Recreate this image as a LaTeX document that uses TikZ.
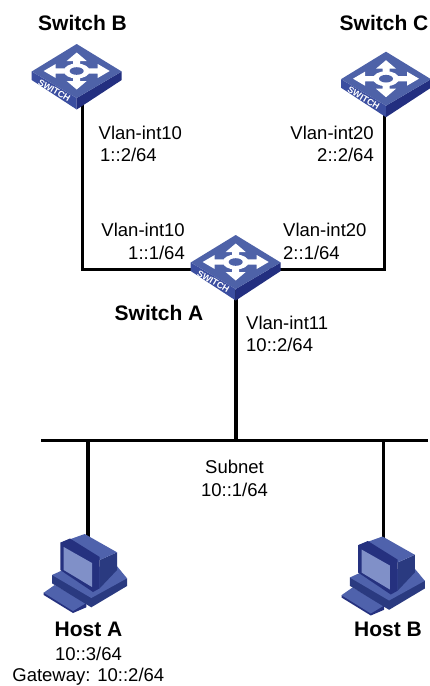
\documentclass[tikz,border=0pt]{standalone}
\usepackage{fontspec}
\setmainfont{Liberation Sans}
\definecolor{swtop}{HTML}{4E62A8}
\definecolor{swleft}{HTML}{3B4EA0}
\definecolor{swright}{HTML}{232F80}
\definecolor{hmid}{HTML}{4F62AC}
\definecolor{hdark}{HTML}{2A3A80}
\definecolor{hdeep}{HTML}{25317F}
\definecolor{hscreen}{HTML}{8090C8}
\tikzset{
  lbl/.style={font=\fontsize{18.5}{22}\selectfont,align=center,inner sep=0pt,text=black},
  bold/.style={font=\fontsize{21}{24}\bfseries\selectfont,inner sep=0pt,text=black},
  wire/.style={line width=3.6pt,black},
  switchicon/.pic={
    \fill[swleft] (-45,0.5)--(0,27)--(0,38.5)--(-45,9)--cycle;
    \fill[swright] (45,0.5)--(0,27)--(0,38.5)--(45,9)--cycle;
    \fill[swtop] (0,-27)--(45,0.5)--(0,27)--(-45,0.5)--cycle;
    \fill[white] (0,-18.5)--(10,-10)--(3.5,-10)--(3.5,-5)--(-3.5,-5)--(-3.5,-10)--(-10,-10)--cycle;
    \fill[white] (0,18.5)--(10,10)--(3.5,10)--(3.5,5)--(-3.5,5)--(-3.5,10)--(-10,10)--cycle;
    \fill[white] (33,0)--(21,-7)--(21,-2.6)--(12,-2.6)--(12,2.6)--(21,2.6)--(21,7)--cycle;
    \fill[white] (-33,0)--(-21,-7)--(-21,-2.6)--(-12,-2.6)--(-12,2.6)--(-21,2.6)--(-21,7)--cycle;
    \fill[white] (0,0) ellipse[x radius=13,y radius=7.5];
    \fill[swtop] (0,0) ellipse[x radius=7,y radius=3.8];
    \node[rotate=-31,text=white,inner sep=0pt,font=\fontsize{9}{10}\bfseries\selectfont] at (-22.4,19.5) {SWITCH};
  },
  hosticon/.pic={
    % keyboard
    \fill[hdeep] (-44.3,57.7)--(-44.3,60)--(-15,78)--(-1.7,72.3)--(-1.7,68)--cycle;
    \fill[hmid] (-44.3,57.7)--(-33.3,50)--(-1.7,68)--(-15,76)--cycle;
    % base
    \fill[hdark] (-36,40)--(-36,48.3)--(3.3,72.3)--(39,51)--(39,43.3)--cycle;
    \fill[hmid] (-36,40)--(-25,35)--(28,30)--(39,43.3)--(3.3,63)--cycle;
    % monitor
    \fill[hdark] (11.7,25)--(29,17.3)--(29,35)--(11.7,53.3)--cycle;
    \fill[hmid] (-27.7,7.7)--(-3.3,-1)--(29,17.3)--(11.7,25)--cycle;
    \fill[hdeep] (-27.7,7.7)--(-18,3.5)--(11.7,22)--(11.7,53.3)--(5,57)--(-27.7,35)--cycle;
    \fill[hscreen] (-24.3,12)--(4,28)--(4,52)--(-24.3,35)--cycle;
  }
}
\begin{document}
\begin{tikzpicture}[x=1pt,y=-1pt]
\useasboundingbox (0,0) rectangle (430,686);
\fill[white] (0,0) rectangle (430,686);
% anchors of the devices
\coordinate (swB) at (76.7,71);
\coordinate (swC) at (386,78.7);
\coordinate (swA) at (235.7,262);
\coordinate (hostA) at (88,535);
\coordinate (hostB) at (385.8,537.5);
% ports and joints
\coordinate (portB) at (82.3,100);
\coordinate (portC) at (384.3,110);
\coordinate (cornerB) at (82.3,269.3);
\coordinate (cornerC) at (384.3,269.3);
\coordinate (portAl) at (200,269.3);
\coordinate (portAr) at (270,269.3);
\coordinate (portAd) at (235.7,290);
\coordinate (busL) at (41,440.5);
\coordinate (busR) at (428,440.5);
\coordinate (tapM) at (235.7,440.5);
\coordinate (tapA) at (88,440.5);
\coordinate (tapB) at (383.3,440.5);
\coordinate (portHA) at (88,540);
\coordinate (portHB) at (383.3,540);
% connectors
\draw[wire] (portB) -- (cornerB) -- (portAl);
\draw[wire] (portC) -- (cornerC) -- (portAr);
\draw[wire] (portAd) -- (tapM);
\draw[wire] (busL) -- (busR);
\draw[wire] (tapA) -- (portHA);
\draw[wire] (tapB) -- (portHB);
% devices
\pic at (swB) {switchicon};
\pic at (swC) {switchicon};
\pic at (swA) {switchicon};
\pic at (hostA) {hosticon};
\pic at (hostB) {hosticon};
% texts
\node[bold] (tB) at (82.5,23) {Switch B};
\node[bold] (tC) at (384,23) {Switch C};
\node[bold] (tA) at (159,313) {Switch A};
\node[bold] (tHA) at (88.5,629) {Host A};
\node[bold] (tHB) at (388,629) {Host B};
\node[lbl,anchor=west] (l1) at (98.5,133) {Vlan-int10};
\node[lbl,anchor=west] (l2) at (100,155) {1::2/64};
\node[lbl,anchor=east] (l3) at (374,133) {Vlan-int20};
\node[lbl,anchor=east] (l4) at (374,155) {2::2/64};
\node[lbl,anchor=east] (l5) at (185,230) {Vlan-int10};
\node[lbl,anchor=east] (l6) at (185,252.7) {1::1/64};
\node[lbl,anchor=west] (l7) at (283,230) {Vlan-int20};
\node[lbl,anchor=west] (l8) at (283,252.7) {2::1/64};
\node[lbl,anchor=west] (l9) at (246,323) {Vlan-int11};
\node[lbl,anchor=west] (l10) at (246,345) {10::2/64};
\node[lbl] (l11) at (234.5,467) {Subnet};
\node[lbl] (l12) at (234.5,490) {10::1/64};
\node[lbl] (l13) at (88.5,654) {10::3/64};
\node[lbl] (l14) at (88.3,676.5) {Gateway: 10::2/64};
\end{tikzpicture}
\end{document}
